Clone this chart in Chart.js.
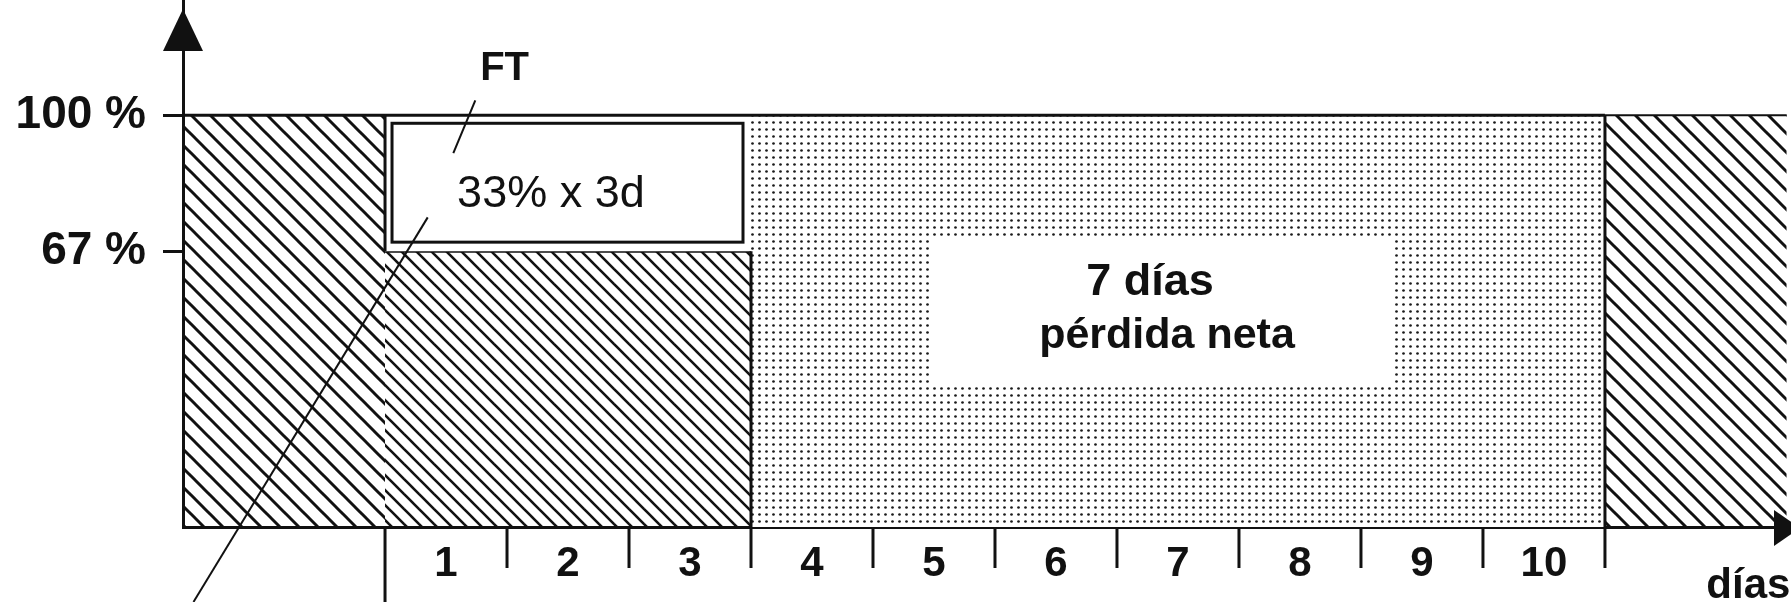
<!DOCTYPE html>
<html>
<head>
<meta charset="utf-8">
<script src="https://cdn.jsdelivr.net/npm/chart.js@4.4.1/dist/chart.umd.min.js"></script>
<style>
  body { margin: 0; background: #fff; }
  #wrap { width: 1791px; height: 602px; }
</style>
</head>
<body>
<div id="wrap"><canvas id="chart" width="1791" height="602"></canvas></div>
<script>
// x axis in days, y axis in %
const xMin = -1.656;
const xMax = 11.525;
const yMax = 128;

const yTicks = [67, 100];
const dayTicks = [0, 1, 2, 3, 4, 5, 6, 7, 8, 9, 10];
const dayLabels = ["1", "2", "3", "4", "5", "6", "7", "8", "9", "10"];
const dayLabelPos = [0.5, 1.5, 2.5, 3.5, 4.5, 5.5, 6.5, 7.5, 8.5, 9.5];

// zones of the diagram
const zoneNames = ["previo", "FT", "FT base", "pérdida neta", "posterior"];
const zoneFrom = [xMin, 0, 0, 3, 10];
const zoneTo = [0, 3, 3, 10, 11.49];
const zoneLow = [0, 67, 0, 0, 0];
const zoneHigh = [100, 100, 67, 100, 100];

// vertical dividers between zones
const dividerX = [0, 3, 10];
const dividerLow = [67, 0, 0];
const dividerHigh = [100, 67, 100];

// texts
const noteTexts = ["FT", "33% x 3d", "7 días", "pérdida neta", "días"];
const noteX = [0.98, 1.36, 6.27, 6.41, 11.52];
const noteY = [108.5, 77.7, 56.3, 43.4, -17.2];

// white box behind "7 días pérdida neta"
const boxFrom = 4.48, boxTo = 8.26, boxLow = 34.5, boxHigh = 70.4;

// pointer lines
const pointerX1 = [0.56, 0.35];
const pointerY1 = [90.8, 75.2];
const pointerX2 = [0.74, -1.57];
const pointerY2 = [103.6, -18.2];

const FONT = "'Liberation Sans', Arial, sans-serif";
const INK = "#111";

// diagonal hatch, n lines per tile
function hatch(s, n, lw) {
  const c = document.createElement("canvas");
  c.width = s; c.height = s;
  const g = c.getContext("2d");
  g.strokeStyle = INK;
  g.lineWidth = lw;
  const step = s / n;
  for (let k = -n; k <= n; k++) {
    g.beginPath();
    g.moveTo(-1, k * step - 1);
    g.lineTo(s + 1, s + k * step + 1);
    g.stroke();
  }
  return g.createPattern(c, "repeat");
}

function dots(w, h, r) {
  const c = document.createElement("canvas");
  c.width = w; c.height = h;
  const g = c.getContext("2d");
  g.fillStyle = "#fff";
  g.fillRect(0, 0, w, h);
  g.fillStyle = "#1a1a1a";
  g.beginPath();
  g.arc(w / 2, h / 2, r, 0, Math.PI * 2);
  g.fill();
  return g.createPattern(c, "repeat");
}

const wide = hatch(19, 1, 3);
const dense = hatch(15, 1, 2.6);
const dotted = dots(7, 7, 1.35);
const zoneFill = [wide, "#fff", dense, dotted, wide];
const zoneBorder = [3, 3, 3, 3, 2];

const extras = {
  id: "extras",
  afterDraw(chart) {
    const { ctx, scales: { x, y } } = chart;
    const px = v => x.getPixelForValue(v);
    const py = v => y.getPixelForValue(v);
    const y0 = py(0);
    ctx.save();
    ctx.strokeStyle = INK;
    ctx.fillStyle = INK;
    ctx.lineCap = "butt";

    // dividers
    ctx.lineWidth = 3;
    dividerX.forEach((d, i) => {
      ctx.beginPath();
      ctx.moveTo(px(d), py(dividerLow[i]));
      ctx.lineTo(px(d), py(dividerHigh[i]));
      ctx.stroke();
    });

    // FT inner frame
    const l = px(zoneFrom[1]) + 7, r = px(zoneTo[1]) - 8;
    const t = py(zoneHigh[1]) + 8, b = py(zoneLow[1]) - 9;
    ctx.lineWidth = 3;
    ctx.strokeRect(l, t, r - l, b - t);

    // day ticks under the axis
    ctx.lineWidth = 3;
    dayTicks.forEach(d => {
      const len = d === 0 ? chart.height - y0 : 41;
      ctx.beginPath();
      ctx.moveTo(px(d), y0);
      ctx.lineTo(px(d), y0 + len);
      ctx.stroke();
    });

    // arrowheads
    const ax = px(xMin);
    const top = chart.chartArea.top;
    ctx.beginPath();
    ctx.moveTo(ax, top + 9);
    ctx.lineTo(ax - 20, top + 51);
    ctx.lineTo(ax + 20, top + 51);
    ctx.closePath();
    ctx.fill();
    const rx = chart.chartArea.right;
    ctx.beginPath();
    ctx.moveTo(rx + 9, y0 + 1);
    ctx.lineTo(rx - 17, y0 - 17);
    ctx.lineTo(rx - 17, y0 + 19);
    ctx.closePath();
    ctx.fill();

    // white box behind text
    ctx.fillStyle = "#fff";
    ctx.fillRect(px(boxFrom), py(boxHigh), px(boxTo) - px(boxFrom), py(boxLow) - py(boxHigh));

    // pointer lines
    ctx.lineWidth = 2;
    pointerX1.forEach((v, i) => {
      ctx.beginPath();
      ctx.moveTo(px(v), py(pointerY1[i]));
      ctx.lineTo(px(pointerX2[i]), py(pointerY2[i]));
      ctx.stroke();
    });

    // texts
    ctx.fillStyle = INK;
    ctx.textBaseline = "alphabetic";
    const fonts = ["bold 40px", "45px", "bold 45px", "bold 43px", "bold 42px"];
    const aligns = ["center", "center", "center", "center", "right"];
    noteTexts.forEach((s, i) => {
      ctx.font = fonts[i] + " " + FONT;
      ctx.textAlign = aligns[i];
      ctx.fillText(s, px(noteX[i]), py(noteY[i]));
    });
    ctx.restore();
  }
};

new Chart(document.getElementById("chart"), {
  type: "scatter",
  data: {
    datasets: zoneNames.map((name, i) => ({
      label: name,
      data: [{ x: zoneFrom[i], y: zoneHigh[i] }, { x: zoneTo[i], y: zoneHigh[i] }],
      showLine: true,
      fill: { value: zoneLow[i] },
      backgroundColor: zoneFill[i],
      borderColor: INK,
      borderWidth: zoneBorder[i],
      pointRadius: 0,
      tension: 0
    }))
  },
  options: {
    responsive: false,
    animation: false,
    devicePixelRatio: 1,
    layout: { padding: 0 },
    plugins: { legend: { display: false }, tooltip: { enabled: false } },
    scales: {
      x: {
        type: "linear", min: xMin, max: xMax, z: 1,
        afterBuildTicks: s => { s.ticks = dayLabelPos.map(v => ({ value: v })); },
        afterFit: s => { s.height = 75; s.paddingLeft = 0; s.paddingRight = 0; },
        ticks: {
          callback: (v, i) => dayLabels[i],
          autoSkip: false, maxRotation: 0, padding: 4, color: INK,
          font: { family: FONT, weight: "bold", size: 42 }
        },
        grid: { display: false },
        border: { display: true, color: INK, width: 3 }
      },
      y: {
        type: "linear", min: 0, max: yMax, z: 1,
        afterBuildTicks: s => { s.ticks = yTicks.map(v => ({ value: v })); },
        afterFit: s => { s.width = 183; s.paddingTop = 0; s.paddingBottom = 0; },
        ticks: {
          callback: v => v + " %",
          padding: 17, color: INK,
          font: { family: FONT, weight: "bold", size: 46 }
        },
        grid: { drawOnChartArea: false, drawTicks: true, tickLength: 20, color: INK, lineWidth: 3 },
        border: { display: true, color: INK, width: 3 }
      }
    }
  },
  plugins: [extras]
});
</script>
</body>
</html>
